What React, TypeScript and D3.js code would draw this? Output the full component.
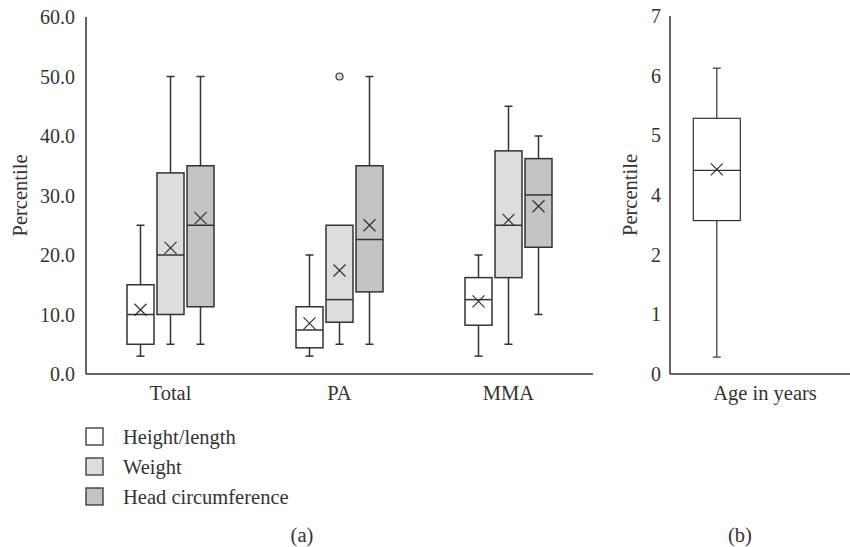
import React from 'react';
import * as d3 from 'd3';

// groups and series for panel (a)
const groups = ['Total', 'PA', 'MMA'];
const seriesNames = ['Height/length', 'Weight', 'Head circumference'];
const seriesFill = ['#ffffff', '#dcdddf', '#c3c4c6'];

// [min, q1, median, q3, max, mean] per group, per series
const heightStats = [
  [3, 5, 10, 15, 25, 10.8],
  [3, 4.4, 7.4, 11.3, 20, 8.5],
  [3, 8.2, 12.5, 16.2, 20, 12.2],
];
const weightStats = [
  [5, 10, 20, 33.8, 50, 21.2],
  [5, 8.7, 12.5, 25, 25, 17.4],
  [5, 16.2, 25, 37.5, 45, 25.9],
];
const headStats = [
  [5, 11.3, 25, 35, 50, 26.2],
  [5, 13.8, 22.6, 35, 50, 25],
  [10, 21.3, 30.1, 36.2, 40, 28.2],
];
const outliers = [{ group: 'PA', series: 1, value: 50 }];
const leftTicks = [0, 10, 20, 30, 40, 50, 60];

// panel (b)
const ageStats = [0.33, 3.0, 3.98, 5.0, 5.98, 4.0];
const ageLabel = 'Age in years';

const font = '"Liberation Serif", "DejaVu Serif", serif';
const ink = '#333';
const fs = 20;
const fsLabel = 20.5;

function BoxMark({ cx, w, s, y, sw = 1.5 }: { cx: number; w: number; s: number[]; y: (v: number) => number; sw?: number }) {
  const [mn, q1, md, q3, mx, mean] = s;
  const cap = 4;
  const xs = 6;
  return (
    <g stroke={ink} strokeWidth={sw}>
      <line x1={cx} x2={cx} y1={y(mn)} y2={y(q1)} />
      <line x1={cx} x2={cx} y1={y(q3)} y2={y(mx)} />
      <line x1={cx - cap} x2={cx + cap} y1={y(mn)} y2={y(mn)} />
      {mx > q3 && <line x1={cx - cap} x2={cx + cap} y1={y(mx)} y2={y(mx)} />}
      <line x1={cx - w / 2} x2={cx + w / 2} y1={y(md)} y2={y(md)} />
      <line x1={cx - xs} x2={cx + xs} y1={y(mean) - xs} y2={y(mean) + xs} strokeWidth={1.2} />
      <line x1={cx - xs} x2={cx + xs} y1={y(mean) + xs} y2={y(mean) - xs} strokeWidth={1.2} />
    </g>
  );
}

export default function App() {
  const W = 850, H = 547;
  const yL = d3.scaleLinear().domain([0, 60]).range([374, 17]);
  const xG = d3.scaleBand().domain(groups).range([86, 593]);
  const xS = d3.scaleBand<number>().domain([0, 1, 2]).range([-43.5, 43.5]).paddingInner(0.1);
  const allStats = [heightStats, weightStats, headStats];

  const yR = d3.scaleLinear().domain([0, 7]).range([374, 16]);
  const xR = d3.scaleLinear().domain([0, 1]).range([670, 850]);
  const rightTicks = d3.range(7).map((i) => (i * 7) / 6);

  const bw = xS.bandwidth();

  return (
    <svg width={W} height={H} style={{ position: 'absolute', left: 0, top: 0 }} fontFamily={font} fill={ink}>
      <rect width={W} height={H} fill="#fff" />
      {/* panel (a) */}
      <text transform={`translate(27,${(yL(0) + yL(60)) / 2}) rotate(-90)`} textAnchor="middle" fontSize={fsLabel}>Percentile</text>
      {leftTicks.map((t) => (
        <text key={t} x={75} y={yL(t)} dy="0.35em" textAnchor="end" fontSize={fs}>{d3.format('.1f')(t)}</text>
      ))}
      {groups.map((g, gi) => {
        const c = xG(g)! + xG.bandwidth() / 2;
        return (
          <g key={g}>
            {allStats.map((st, si) => {
              const s = st[gi];
              const x0 = c + xS(si)!;
              return (
                <g key={si}>
                  <rect x={x0} y={yL(s[3])} width={bw} height={yL(s[1]) - yL(s[3])} fill={seriesFill[si]} stroke={ink} strokeWidth={1.5} />
                  <BoxMark cx={x0 + bw / 2} w={bw} s={s} y={yL} />
                </g>
              );
            })}
            <text x={c} y={400} textAnchor="middle" fontSize={fsLabel}>{g}</text>
          </g>
        );
      })}
      {outliers.map((o, i) => {
        const cx = xG(o.group)! + xG.bandwidth() / 2 + xS(o.series)! + bw / 2;
        return <circle key={i} cx={cx} cy={yL(o.value)} r={3.5} fill={seriesFill[o.series]} stroke={ink} strokeWidth={1.2} />;
      })}
      <line x1={86} x2={86} y1={yL(60)} y2={yL(0)} stroke={ink} strokeWidth={1.5} />
      <line x1={xG.range()[0]} x2={xG.range()[1]} y1={yL(0)} y2={yL(0)} stroke={ink} strokeWidth={1.5} />

      {/* legend */}
      {seriesNames.map((n, i) => (
        <g key={n} transform={`translate(0,${428 + i * 30})`}>
          <rect x={86} y={0} width={17} height={17} fill={seriesFill[i]} stroke={ink} strokeWidth={1.3} />
          <text x={123} y={9} dy="0.35em" fontSize={fsLabel}>{n}</text>
        </g>
      ))}
      <text x={302} y={542} textAnchor="middle" fontSize={fsLabel}>(a)</text>

      {/* panel (b) */}
      <text transform={`translate(637,${(yR(0) + yR(7)) / 2}) rotate(-90)`} textAnchor="middle" fontSize={fsLabel}>Percentile</text>
      {rightTicks.map((t, i) => (
        <text key={i} x={661} y={yR(t)} dy="0.35em" textAnchor="end" fontSize={fs}>{Math.round(t)}</text>
      ))}
      <rect x={xR(0.26) - 23.5} y={yR(ageStats[3])} width={47} height={yR(ageStats[1]) - yR(ageStats[3])} fill="#fff" stroke={ink} strokeWidth={1.2} />
      <BoxMark cx={xR(0.26)} w={47} s={ageStats} y={yR} sw={1.2} />
      <line x1={xR(0)} x2={xR(0)} y1={yR(7)} y2={yR(0)} stroke={ink} strokeWidth={1.5} />
      <line x1={xR(0)} x2={xR(1)} y1={yR(0)} y2={yR(0)} stroke={ink} strokeWidth={1.5} />
      <text x={765} y={400} textAnchor="middle" fontSize={fsLabel}>{ageLabel}</text>
      <text x={740} y={542} textAnchor="middle" fontSize={fsLabel}>(b)</text>
    </svg>
  );
}
